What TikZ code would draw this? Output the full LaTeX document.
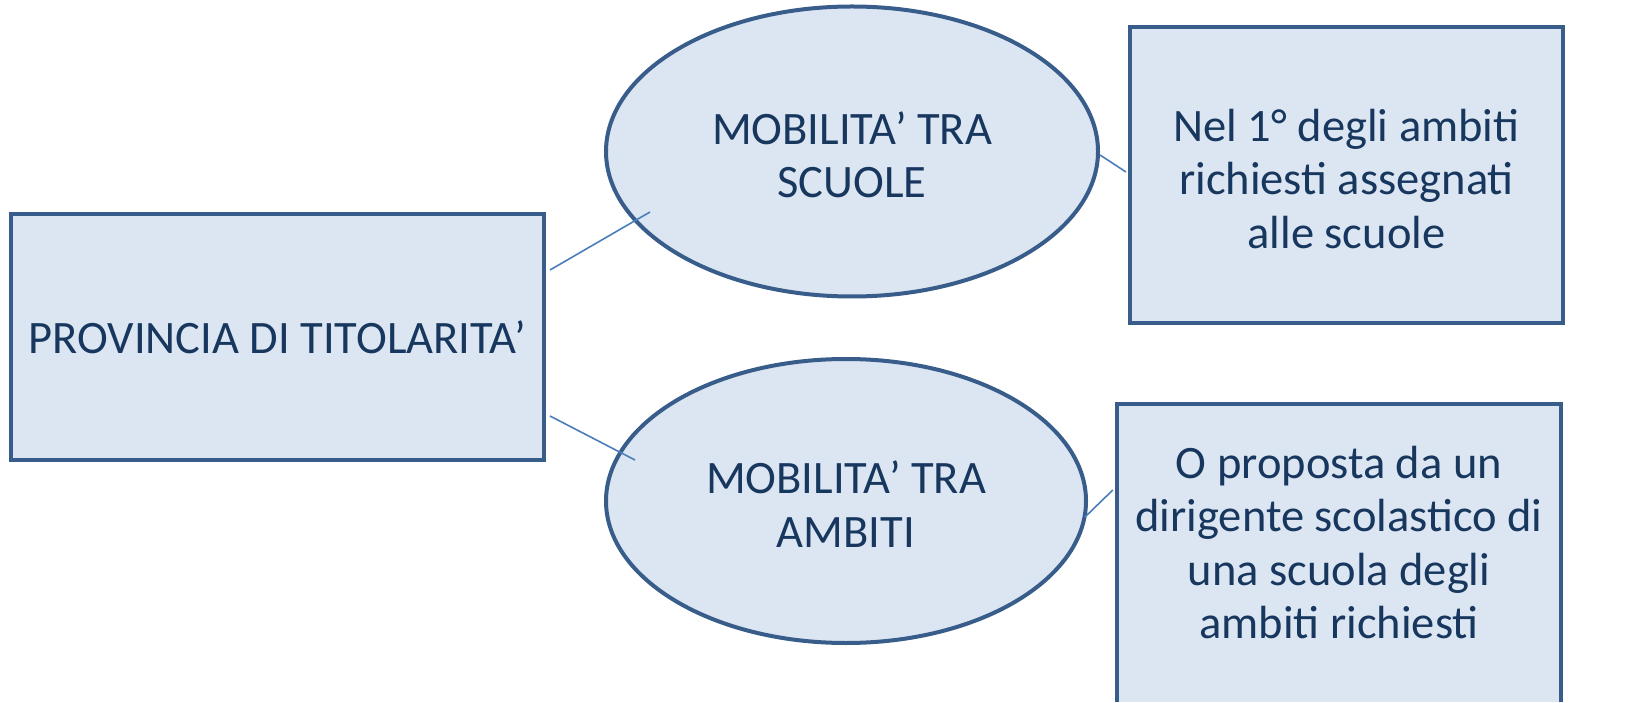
\documentclass[tikz,border=0pt]{standalone}
\usepackage{fontspec}
\setmainfont{Carlito}
\usetikzlibrary{shapes.geometric,calc}
\definecolor{bordc}{HTML}{385D8A}
\definecolor{fillc}{HTML}{DCE6F2}
\definecolor{linec}{HTML}{4A7EBB}
\definecolor{textc}{HTML}{17375E}
\begin{document}
\begin{tikzpicture}[x=1pt,y=1pt,
  shapebox/.style={draw=bordc,fill=fillc,line width=4pt,rectangle,inner sep=0pt},
  oval/.style={draw=bordc,fill=fillc,line width=4pt,ellipse,inner sep=0pt},
  bord/.style={draw=bordc,line width=4pt},
  conn/.style={draw=linec,line width=1.6pt},
  txt/.style={text=textc,align=center,font=\fontsize{46.5}{53.5}\selectfont}]
\useasboundingbox (0,0) rectangle (1635,702);
\node[shapebox,minimum width=533,minimum height=246] (lb) at (277.5,365) {};
\node[txt] (lbt) at (277.5,365) {PROVINCIA DI TITOLARITA’};
\node[oval,minimum width=492,minimum height=290] (e1) at (852,550.5) {};
\node[txt] (e1t) at (852,547) {MOBILITA’ TRA\\SCUOLE};
\node[oval,minimum width=480,minimum height=284] (e2) at (846,201) {};
\node[txt] (e2t) at (846,198) {MOBILITA’ TRA\\AMBITI};
\node[shapebox,minimum width=433,minimum height=296] (tr) at (1346.5,527) {};
\node[txt] (trt) at (1346.5,523) {Nel 1° degli ambiti\\richiesti assegnati\\alle scuole};
\node[fill=fillc,inner sep=0pt,minimum width=444,minimum height=298] (br) at (1339,149) {};
\draw[bord] (br.south west) -- (br.north west) -- (br.north east) -- (br.south east);
\node[txt] (brt) at (1339,159.5) {O proposta da un\\dirigente scolastico di\\una scuola degli\\ambiti richiesti};
\draw[conn] ($(lb.east)+(4,67)$) -- ($(e1.center)+(-202,-60.5)$);
\draw[conn] ($(lb.east)+(4,-79)$) -- ($(e2.center)+(-211,41)$);
\draw[conn] ($(e1.center)+(248,-3.5)$) -- ($(tr.west)+(-2,3)$);
\draw[conn] ($(e2.center)+(239,-16)$) -- ($(br.west)+(-4,63)$);
\end{tikzpicture}
\end{document}
